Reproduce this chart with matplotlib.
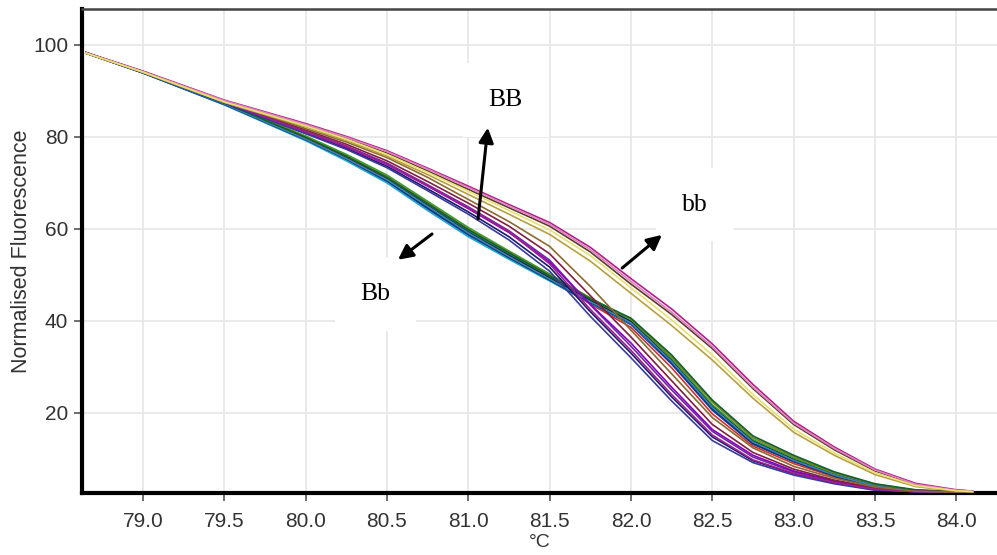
import matplotlib
matplotlib.use("Agg")
import matplotlib.pyplot as plt

# temperature points (deg C)
temps = [78.65, 79.0, 79.5, 80.0, 80.25, 80.5, 80.75, 81.0, 81.25, 81.5, 81.75,
         82.0, 82.25, 82.5, 82.75, 83.0, 83.25, 83.5, 83.75, 84.0, 84.1]

# bb curves (highest melting, upper group)
bb_1 = [98.3, 94.3, 88.0, 82.9, 80.1, 77.0, 73.2, 69.3, 65.3, 61.4, 56.0, 49.2, 42.6, 35.0, 26.2, 18.2, 12.6, 7.8, 4.7, 3.3, 3.0]
bb_2 = [98.2, 94.2, 87.8, 82.6, 79.8, 76.5, 72.6, 68.6, 64.6, 60.6, 55.0, 48.0, 41.4, 34.0, 25.3, 17.5, 12.0, 7.4, 4.4, 3.2, 3.0]
bb_3 = [98.3, 94.2, 87.9, 82.7, 79.9, 76.8, 73.0, 69.0, 65.0, 61.0, 55.5, 48.6, 41.9, 34.4, 25.6, 17.8, 12.3, 7.6, 4.5, 3.2, 3.0]
bb_4 = [98.2, 94.0, 87.5, 82.2, 79.2, 75.8, 71.8, 67.5, 63.2, 58.8, 53.0, 46.0, 39.0, 31.5, 23.2, 15.8, 10.8, 6.6, 4.0, 3.0, 2.9]
bb_5 = [98.2, 94.1, 87.6, 82.4, 79.5, 76.2, 72.3, 68.2, 64.0, 59.8, 54.2, 47.2, 40.2, 32.6, 24.0, 16.5, 11.3, 7.0, 4.2, 3.1, 2.9]

# BB curves (middle early, steepest drop)
BB_1 = [98.3, 94.1, 87.6, 81.2, 78.0, 74.3, 69.6, 64.8, 59.6, 53.2, 43.5, 34.5, 25.0, 16.0, 10.4, 7.2, 5.1, 3.5, 2.9, 2.8, 2.8]
BB_2 = [98.2, 94.0, 87.4, 80.8, 77.5, 73.6, 68.7, 63.7, 58.3, 51.7, 42.0, 33.0, 23.5, 14.8, 9.6, 6.8, 4.8, 3.3, 2.9, 2.8, 2.8]
BB_3 = [98.3, 94.1, 87.6, 81.0, 77.8, 74.0, 69.3, 64.4, 59.2, 52.8, 43.6, 35.2, 25.6, 16.4, 10.8, 7.4, 5.2, 3.6, 3.0, 2.8, 2.8]
BB_4 = [98.3, 94.2, 87.8, 81.5, 78.4, 74.8, 70.3, 65.6, 60.6, 54.6, 45.5, 36.5, 27.0, 17.5, 11.4, 7.8, 5.4, 3.7, 3.0, 2.8, 2.8]
BB_5 = [98.2, 94.0, 87.4, 80.7, 77.3, 73.3, 68.3, 63.2, 57.6, 50.8, 41.0, 32.0, 22.6, 14.0, 9.2, 6.5, 4.6, 3.2, 2.9, 2.8, 2.8]
BB_6 = [98.3, 94.1, 87.6, 81.1, 77.9, 74.1, 69.4, 64.6, 59.4, 52.4, 42.5, 33.6, 24.0, 15.2, 9.8, 6.9, 4.9, 3.4, 2.9, 2.8, 2.8]
BB_7 = [98.3, 94.2, 87.8, 81.8, 78.9, 75.5, 71.2, 66.4, 61.6, 56.2, 47.5, 38.0, 28.5, 19.0, 12.4, 8.4, 5.8, 3.9, 3.0, 2.8, 2.8]

# Bb curves (lowest early, middle late)
Bb_1 = [98.3, 94.0, 87.3, 79.8, 75.6, 71.0, 65.2, 59.5, 54.5, 49.6, 44.6, 40.0, 31.6, 21.6, 14.0, 10.0, 6.6, 4.2, 3.1, 2.8, 2.8]
Bb_2 = [98.2, 93.9, 87.0, 79.3, 75.0, 70.2, 64.3, 58.6, 53.6, 48.8, 43.8, 39.2, 30.6, 20.6, 13.2, 9.4, 6.3, 4.0, 3.0, 2.8, 2.8]
Bb_3 = [98.3, 94.1, 87.5, 80.2, 76.2, 71.7, 66.0, 60.3, 55.2, 50.2, 45.0, 40.3, 31.8, 21.8, 14.2, 10.2, 6.8, 4.4, 3.2, 2.8, 2.8]
Bb_4 = [98.3, 94.0, 87.3, 79.7, 75.5, 70.8, 65.0, 59.2, 54.2, 49.3, 44.4, 39.8, 31.3, 21.3, 13.8, 9.8, 6.5, 4.2, 3.1, 2.8, 2.8]
Bb_5 = [98.2, 94.0, 87.2, 79.6, 75.3, 70.6, 64.8, 59.0, 53.9, 48.9, 43.7, 38.6, 29.8, 19.8, 12.8, 9.0, 6.1, 3.9, 3.0, 2.8, 2.8]
Bb_6 = [98.2, 93.9, 87.0, 79.2, 74.8, 70.0, 64.0, 58.3, 53.4, 48.7, 43.9, 39.4, 31.0, 21.0, 13.5, 9.6, 6.4, 4.1, 3.0, 2.8, 2.8]
Bb_7 = [98.3, 94.1, 87.5, 80.0, 75.9, 71.4, 65.7, 60.0, 55.0, 50.0, 44.9, 40.4, 32.2, 22.4, 14.6, 10.5, 7.0, 4.5, 3.2, 2.9, 2.8]
Bb_8 = [98.2, 93.9, 87.1, 79.4, 75.2, 70.5, 64.6, 58.9, 53.8, 48.9, 44.0, 39.5, 30.9, 20.9, 13.4, 9.5, 6.3, 4.0, 3.0, 2.8, 2.8]
Bb_9 = [98.3, 94.0, 87.2, 79.5, 75.3, 70.7, 64.9, 59.1, 54.0, 49.1, 44.2, 39.6, 31.2, 21.2, 13.7, 9.7, 6.5, 4.1, 3.0, 2.8, 2.8]
Bb_10 = [98.3, 94.1, 87.4, 79.9, 75.8, 71.2, 65.5, 59.8, 54.8, 49.8, 44.8, 40.6, 32.6, 22.8, 15.0, 10.8, 7.2, 4.6, 3.3, 2.9, 2.8]

bb_curves = [bb_1, bb_2, bb_3, bb_4, bb_5]
bb_colors = ['#b0208a', '#5a3a2a', '#e080c0', '#b8a040', '#e8e070']
BB_curves = [BB_1, BB_2, BB_3, BB_4, BB_5, BB_6, BB_7]
BB_colors = ['#6a2a9a', '#1a1a70', '#8a00c0', '#802040', '#3a3a9a', '#a02090', '#8a6a30']
Bb_curves = [Bb_1, Bb_2, Bb_3, Bb_4, Bb_5, Bb_6, Bb_7, Bb_8, Bb_9, Bb_10]
Bb_colors = ['#008080', '#2040c0', '#30a030', '#111111', '#d03030', '#20a8d0',
             '#808020', '#003366', '#4080b0', '#106030']

fig = plt.figure(figsize=(9.97, 5.55), dpi=100)
ax = fig.add_axes([0.0822, 0.1117, 0.9178, 0.8721])

# draw the curves, Bb first so the others sit on top like in the reference
for y, c in zip(Bb_curves, Bb_colors):
    ax.plot(temps, y, color=c, lw=1.2, zorder=3)
for y, c in zip(BB_curves, BB_colors):
    ax.plot(temps, y, color=c, lw=1.2, zorder=3)
for y, c in zip(bb_curves, bb_colors):
    ax.plot(temps, y, color=c, lw=1.2, zorder=3)

ax.set_xlim(78.625, 84.25)
ax.set_ylim(2.6, 107.8)
ax.set_xticks([79.0, 79.5, 80.0, 80.5, 81.0, 81.5, 82.0, 82.5, 83.0, 83.5, 84.0])
ax.set_xticklabels(['79.0', '79.5', '80.0', '80.5', '81.0', '81.5', '82.0', '82.5', '83.0', '83.5', '84.0'])
ax.set_yticks([20, 40, 60, 80, 100])
ax.grid(True, color='#e6e6e6', lw=1.2, zorder=0)
ax.set_axisbelow(True)

for lab in ax.get_xticklabels() + ax.get_yticklabels():
    lab.set_family('Liberation Sans')
    lab.set_fontsize(15)
    lab.set_color('#333333')
ax.tick_params(axis='x', length=6, width=1.2, color='#555555', pad=8)
ax.tick_params(axis='y', length=6, width=1.2, color='#555555', pad=4)

ax.spines['left'].set_linewidth(3)
ax.spines['bottom'].set_linewidth(3)
ax.spines['top'].set_linewidth(1.8)
ax.spines['top'].set_color('#444444')
ax.spines['right'].set_visible(False)

ax.set_ylabel('Normalised Fluorescence', family='Liberation Sans', fontsize=15.5,
              color='#333333', labelpad=1)
ax.set_xlabel('°C', family='Liberation Sans', fontsize=14, color='#333333', labelpad=2)

# genotype labels with white boxes, and their arrows
box = dict(boxstyle='square,pad=1.0', fc='white', ec='none')
ax.text(81.23, 88.0, 'BB', family='Liberation Serif', fontsize=18.5,
        ha='center', va='center', bbox=box, zorder=2)
ax.text(82.39, 65.3, 'bb', family='Liberation Serif', fontsize=18.5,
        ha='center', va='center', bbox=box, zorder=2)
ax.text(80.43, 45.8, 'Bb', family='Liberation Serif', fontsize=18.5,
        ha='center', va='center', bbox=box, zorder=2)

arrow = dict(arrowstyle='-|>', color='black', lw=2.2, mutation_scale=22,
             shrinkA=0, shrinkB=0)
ax.annotate('', xy=(81.12, 82.0), xytext=(81.06, 62.2), arrowprops=arrow, zorder=5)
ax.annotate('', xy=(80.568, 53.3), xytext=(80.777, 58.9), arrowprops=arrow, zorder=5)
ax.annotate('', xy=(82.19, 58.7), xytext=(81.946, 51.5), arrowprops=arrow, zorder=5)

fig.savefig('out.png', dpi=100)
